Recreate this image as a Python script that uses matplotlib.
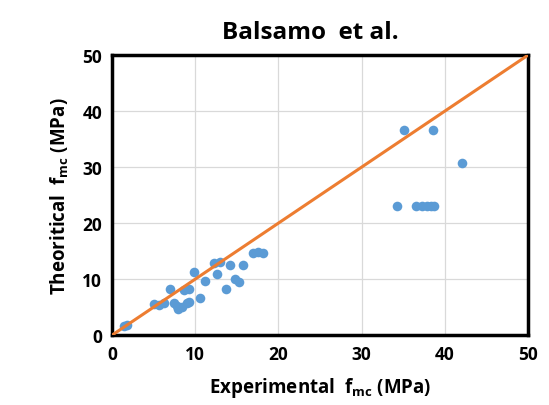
import matplotlib
matplotlib.use("Agg")
import matplotlib.pyplot as plt

# Experimental vs theoretical f_mc (MPa)
exp_fmc = [1.4, 1.8, 5.0, 5.6, 6.2, 7.0, 7.4, 7.8, 7.9, 8.4, 9.0, 9.2,
           8.6, 9.3, 9.8, 10.6, 11.2, 12.2, 13.0, 12.6, 13.7, 14.2, 14.8,
           15.2, 15.7, 17.0, 17.6, 18.2,
           35.1, 38.6, 42.1, 34.3, 36.5, 37.2, 37.8, 38.3, 38.7]
theo_fmc = [1.6, 1.9, 5.6, 5.4, 5.8, 8.2, 5.8, 5.2, 4.6, 5.0, 5.8, 6.0,
            8.1, 8.2, 11.2, 6.7, 9.7, 12.9, 13.1, 10.9, 8.2, 12.6, 10.1,
            9.5, 12.5, 14.7, 14.8, 14.7,
            36.6, 36.6, 30.7, 23.0, 23.0, 23.0, 23.0, 23.0, 23.0]

ideal_line = [0, 50]
ticks = [0, 10, 20, 30, 40, 50]

plt.rcParams["font.family"] = ["Open Sans", "DejaVu Sans"]

fig = plt.figure(figsize=(5.49, 4.06), dpi=100)
ax = fig.add_axes([0.204, 0.172, 0.758, 0.690])

ax.grid(True, color="#D9D9D9", linewidth=0.9, zorder=0)
ax.scatter(exp_fmc, theo_fmc, s=48, color="#5B9BD5", zorder=3, linewidths=0)
ax.plot(ideal_line, ideal_line, color="#ED7D31", linewidth=2.2, zorder=4)

ax.set_xlim(0, 50)
ax.set_ylim(0, 50)
ax.set_xticks(ticks)
ax.set_yticks(ticks)
ax.tick_params(length=0, labelsize=12.5, pad=7)
for lbl in ax.get_xticklabels() + ax.get_yticklabels():
    lbl.set_fontweight("bold")
for sp in ax.spines.values():
    sp.set_linewidth(2.5)
    sp.set_color("black")

ax.set_xlabel(r"Experimental  f$_{\mathregular{mc}}$ (MPa)", fontsize=13.5, fontweight="bold", labelpad=9)
ax.set_ylabel(r"Theoritical  f$_{\mathregular{mc}}$ (MPa)", fontsize=13.5, fontweight="bold", labelpad=8)
ax.set_title("Balsamo  et al.", fontsize=17.5, fontweight="bold", pad=12, x=0.476)

fig.savefig("out.png", dpi=100)
